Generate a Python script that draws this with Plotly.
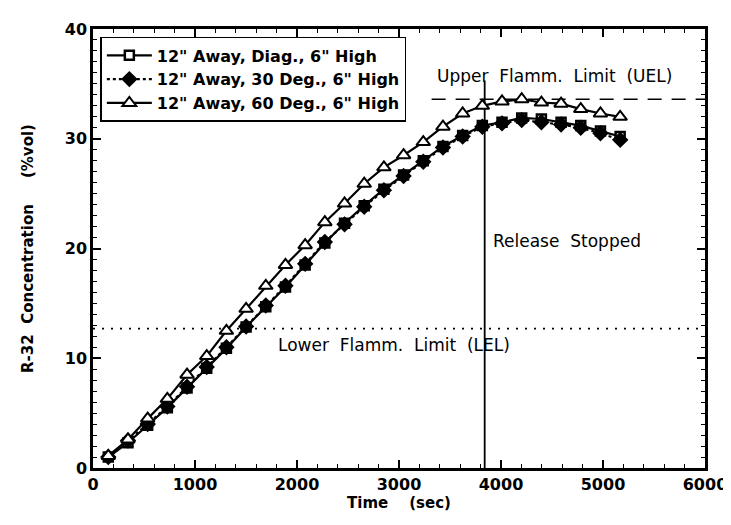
import plotly.graph_objects as go

# Data
time_s = [150, 343, 536, 729, 922, 1115, 1308, 1501, 1694, 1887, 2080, 2273, 2466, 2659,
          2852, 3045, 3238, 3431, 3624, 3817, 4010, 4203, 4396, 4589, 4782, 4975, 5168]
diag_6in = [1.0, 2.3, 3.9, 5.5, 7.3, 9.1, 10.9, 12.85, 14.7, 16.5, 18.5, 20.5, 22.3, 23.9,
            25.4, 26.7, 28.0, 29.3, 30.3, 31.2, 31.5, 31.9, 31.8, 31.5, 31.2, 30.7, 30.2]
deg30_6in = [1.0, 2.5, 4.0, 5.6, 7.4, 9.2, 11.0, 12.9, 14.8, 16.6, 18.6, 20.6, 22.2, 23.8,
             25.3, 26.6, 27.9, 29.2, 30.2, 31.1, 31.4, 31.7, 31.5, 31.3, 31.0, 30.5, 29.9]
deg60_6in = [1.1, 2.6, 4.5, 6.3, 8.5, 10.2, 12.5, 14.5, 16.6, 18.5, 20.3, 22.4, 24.1, 25.9,
             27.4, 28.5, 29.7, 31.1, 32.3, 33.0, 33.4, 33.6, 33.3, 33.2, 32.7, 32.3, 32.0]
names = ['12" Away, Diag., 6" High', '12" Away, 30 Deg., 6" High', '12" Away, 60 Deg., 6" High']

uel = 33.6
lel = 12.7
release_stop = 3840

FONT = "DejaVu Sans"

fig = go.Figure()
fig.add_trace(go.Scatter(x=time_s, y=diag_6in, name=names[0], mode="lines+markers",
                         line=dict(color="black", width=2.2),
                         marker=dict(symbol="square", size=9, color="white",
                                     line=dict(color="black", width=2.5))))
fig.add_trace(go.Scatter(x=time_s, y=deg30_6in, name=names[1], mode="lines+markers",
                         line=dict(color="black", width=2.2, dash="dot"),
                         marker=dict(symbol="diamond", size=11, color="black",
                                     line=dict(color="black", width=1.5))))
fig.add_trace(go.Scatter(x=time_s, y=deg60_6in, name=names[2], mode="lines+markers",
                         line=dict(color="black", width=2.2),
                         marker=dict(symbol="triangle-up", size=12, color="white",
                                     line=dict(color="black", width=2))))

# reference lines
fig.add_shape(type="line", x0=0, x1=6000, y0=lel, y1=lel, xref="x", yref="y",
              line=dict(color="black", width=1.6, dash="2px,7px"), layer="below")
fig.add_shape(type="line", x0=3320, x1=6000, y0=uel, y1=uel, xref="x", yref="y",
              line=dict(color="black", width=1.6, dash="14px,10px"), layer="below")
fig.add_shape(type="line", x0=release_stop, x1=release_stop, y0=0, y1=35.3, xref="x", yref="y",
              line=dict(color="black", width=1.8), layer="below")

ann_font = dict(family=FONT, size=17, color="black")
fig.add_annotation(x=3350, y=35.7, text="Upper  Flamm.  Limit  (UEL)", showarrow=False,
                   xanchor="left", yanchor="middle", font=ann_font)
fig.add_annotation(x=3900, y=20.7, text="Release  Stopped", showarrow=False,
                   xanchor="left", yanchor="middle", font=ann_font)
fig.add_annotation(x=1790, y=11.2, text="Lower  Flamm.  Limit  (LEL)", showarrow=False,
                   xanchor="left", yanchor="middle", font=ann_font)

axis_common = dict(showgrid=False, zeroline=False, showline=True, linecolor="black",
                   linewidth=2.5, mirror="ticks", ticks="inside", ticklen=8, tickwidth=1.5,
                   tickcolor="black",
                   tickfont=dict(family=FONT, size=16, color="black", weight="bold"))

fig.update_xaxes(range=[0, 6000], tickvals=[0, 1000, 2000, 3000, 4000, 5000, 6000],
                 minor=dict(dtick=200, ticks="inside", ticklen=4, tickwidth=1.2, tickcolor="black"),
                 title=dict(text="Time    (sec)", font=dict(family=FONT, size=15, color="black", weight="bold"),
                            standoff=4),
                 **axis_common)
fig.update_yaxes(range=[0, 40], tickvals=[0, 10, 20, 30, 40],
                 minor=dict(dtick=1, ticks="inside", ticklen=4, tickwidth=1.2, tickcolor="black"),
                 title=dict(text="R-32  Concentration     (%vol)",
                            font=dict(family=FONT, size=15, color="black", weight="bold"), standoff=28),
                 **axis_common)

fig.update_layout(
    width=731, height=525,
    margin=dict(l=85, r=26, t=14, b=65),
    plot_bgcolor="white", paper_bgcolor="white",
    font=dict(family=FONT, color="black"),
    showlegend=True,
    legend=dict(x=0.012, y=0.982, xanchor="left", yanchor="top",
                bgcolor="white", bordercolor="black", borderwidth=1.5,
                font=dict(family=FONT, size=16, color="black", weight="bold"),
                tracegroupgap=0, itemwidth=45),
)

fig.write_html("out.html")
